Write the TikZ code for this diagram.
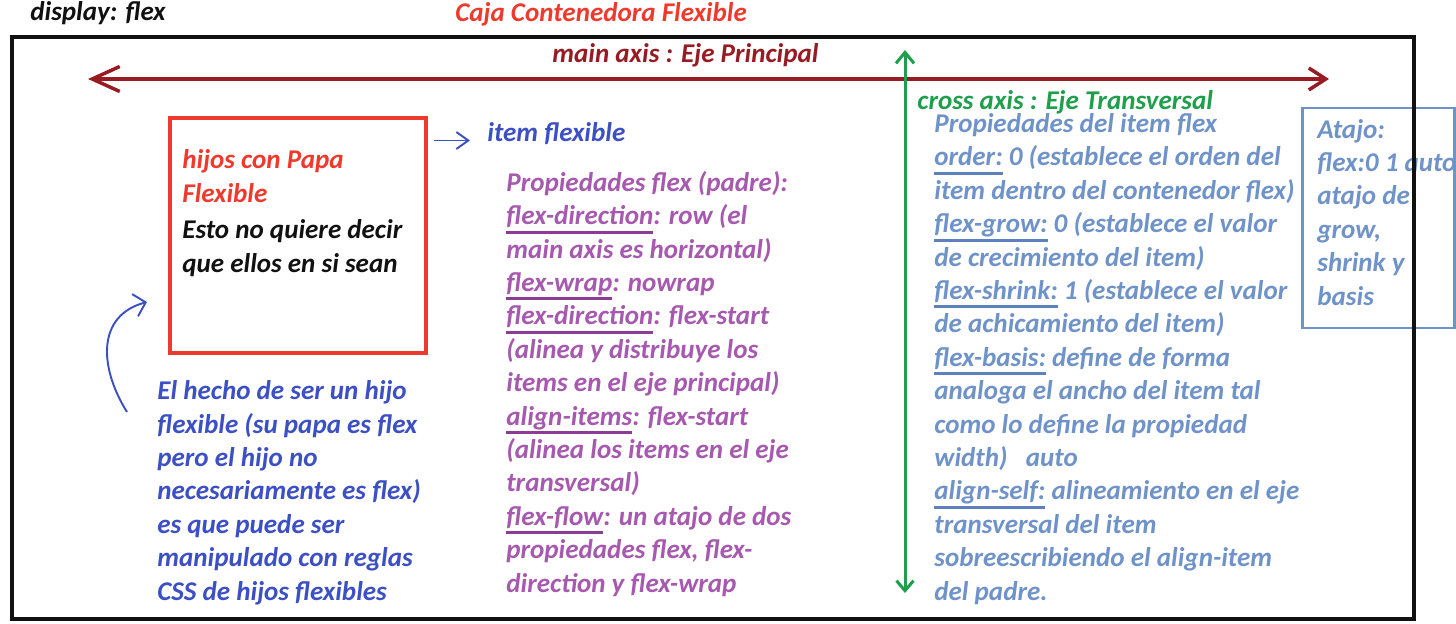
\documentclass[tikz,border=0pt]{standalone}
\usepackage{fontspec}
\setmainfont{Carlito}
\usepackage{xcolor}
\usepackage{tikz}
\usetikzlibrary{arrows.meta,positioning,calc}
\definecolor{cink}{HTML}{111111}
\definecolor{cred}{HTML}{EE3A2C}
\definecolor{cmaroon}{HTML}{961B22}
\definecolor{cgreen}{HTML}{1F9E4B}
\definecolor{cblue}{HTML}{3C50C4}
\definecolor{cpurple}{HTML}{A659AE}
\definecolor{cpurpul}{HTML}{8B3D94}
\definecolor{csteel}{HTML}{6F93C8}
\definecolor{csteelul}{HTML}{5E80BC}
% hand drawn underline under a word
\newcommand{\hul}[2]{\setbox0=\hbox{#2}\rlap{\color{#1}\rule[-5pt]{\wd0}{1.7pt}}\box0\relax}
\tikzset{
  hw/.style={anchor=base west,inner sep=0pt,align=left},
  frame/.style={draw=cink,line width=2.3pt},
  kid/.style={draw=cred,line width=2pt,minimum width=5.12cm,minimum height=4.70cm,inner sep=0pt},
  atj/.style={draw=csteel,line width=1.7pt,minimum width=3.04cm,minimum height=4.40cm,inner sep=0pt},
  mainax/.style={arrows={Straight Barb[length=5.5mm,width=5mm]-Straight Barb[length=3.4mm,width=4.4mm]},
                 draw=cmaroon,line width=2pt},
  crossax/.style={arrows={Straight Barb[length=2.2mm,width=3.6mm]-Straight Barb[length=2mm,width=3.4mm]},
                  draw=cgreen,line width=1.7pt},
  pointer/.style={-{Straight Barb[length=2.4mm,width=3.4mm]},draw=cblue,line width=1.1pt},
}

\begin{document}
\begin{tikzpicture}[font=\fontsize{15.4}{19}\selectfont\bfseries\itshape]
\useasboundingbox (0,0) rectangle (29.12,12.46);

% ================= HEADER =================
\node[hw,text=cink] (disp) at (0.60,12.04) {display: flex};
\node[hw,text=cred] (caja) at (9.10,12.02) {Caja Contenedora Flexible};

% ================= ATAJO (behind the frame) =================
% (multi-line nodes: base = last line)
\node[atj] (atajo) at (27.56,8.10) {};
\node[hw,text=csteel] (atajotxt) at (26.34,6.36)
  {Atajo:\\flex:0 1 auto\\atajo de\\grow,\\shrink y\\basis};

% ================= AXES =================
\coordinate (maL) at (1.76,10.88);
\coordinate (maR) at (26.58,10.88);
\draw[mainax] (maL) -- (maR);
\node[hw,text=cmaroon] (malbl) at (11.04,11.20) {main axis : Eje Principal};

\coordinate (caT) at (18.10,11.46);
\coordinate (caB) at (18.10,0.60);
\draw[crossax] (caT) -- (caB);
\node[hw,text=cgreen] (calbl) at (18.34,10.26) {cross axis : Eje Transversal};

% ================= LEFT: flex child =================
\node[kid] (hijo) at (5.96,7.75) {};
\node[hw,text=cred,font=\fontsize{15.4}{19.3}\selectfont\bfseries\itshape] (hijos) at (3.64,8.42) {hijos con Papa\\Flexible};
\node[hw,text=cink,font=\fontsize{15.4}{19.3}\selectfont\bfseries\itshape] (esto) at (3.64,7.02) {Esto no quiere decir\\que ellos en si sean};

\node[hw,text=cblue] (item) at (9.74,9.62) {item flexible};
\draw[pointer] ($(hijo.east |- item.base west)+(0.12,0.03)$) -- ($(item.base west)+(-0.34,0.03)$);

\node[hw,text=cblue] (hecho) at (3.14,0.46)
  {El hecho de ser un hijo\\flexible (su papa es flex\\pero el hijo no\\necesariamente es flex)\\
   es que puede ser\\manipulado con reglas\\CSS de hijos flexibles};
\coordinate (curvS) at (2.54,4.22);
\coordinate (curvE) at (2.94,6.42);
\draw[pointer,arrows={-Straight Barb[length=2.2mm,width=4.6mm]}] (curvS) to[out=122,in=195,looseness=1.2] (curvE);

% ================= MIDDLE: parent properties =================
\node[hw,text=cpurple] (padre) at (10.12,0.62)
  {Propiedades flex (padre):\\
   \hul{cpurpul}{flex-direction}: row (el\\
   main axis es horizontal)\\
   \hul{cpurpul}{flex-wrap}: nowrap\\
   \hul{cpurpul}{flex-direction}: flex-start\\
   (alinea y distribuye los\\
   items en el eje principal)\\
   \hul{cpurpul}{align-items}: flex-start\\
   (alinea los items en el eje\\
   transversal)\\
   \hul{cpurpul}{flex-flow}: un atajo de dos\\
   propiedades flex, flex-\\
   direction y flex-wrap};

% ================= RIGHT: item properties =================
\node[hw,text=csteel] (propitem) at (18.68,0.46)
  {Propiedades del item flex\\
   \hul{csteelul}{order:} 0 (establece el orden del\\
   item dentro del contenedor flex)\\
   \hul{csteelul}{flex-grow:} 0 (establece el valor\\
   de crecimiento del item)\\
   \hul{csteelul}{flex-shrink:} 1 (establece el valor\\
   de achicamiento del item)\\
   \hul{csteelul}{flex-basis:} define de forma\\
   analoga el ancho del item tal\\
   como lo define la propiedad\\
   width) \ \ auto\\
   \hul{csteelul}{align-self:} alineamiento en el eje\\
   transversal del item\\
   sobreescribiendo el align-item\\
   del padre.};

% ================= CONTAINER =================
\draw[frame] (0.24,11.72) rectangle (28.28,0.08);

\end{tikzpicture}
\end{document}
